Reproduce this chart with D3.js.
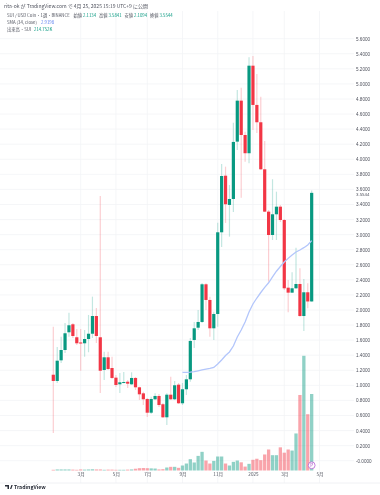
<!DOCTYPE html>
<html><head><meta charset="utf-8">
<script src="https://cdnjs.cloudflare.com/ajax/libs/d3/7.8.5/d3.min.js"></script>
<style>html,body{margin:0;padding:0;background:#fff}svg{display:block;filter:blur(.35px)}text{font-family:"Noto Sans CJK JP","Noto Sans",sans-serif}.num text,text.num{font-family:"Liberation Sans","Noto Sans CJK JP",sans-serif}</style>
</head><body><svg id="c" width="380" height="495"></svg>
<script>
const opens=[1.141,1.058,1.332,1.469,1.704,1.810,1.638,1.569,1.558,1.615,1.685,1.920,1.638,1.204,1.372,1.230,1.102,1.014,1.035,1.048,1.014,1.098,.974,.894,.819,.637,.815,.859,.749,.576,.876,.815,1.009,.762,.948,1.080,1.602,1.765,1.841,2.341,2.133,1.757,1.947,3.031,3.782,3.394,3.473,4.234,4.778,4.322,4.080,5.242,4.721,4.491,3.867,3.305,2.995,3.270,3.371,3.194,2.296,2.230,2.288,2.345,1.920,2.235,2.1134];
const closes=[1.058,1.327,1.469,1.691,1.797,1.655,1.558,1.555,1.615,1.685,1.920,1.655,1.194,1.372,1.217,1.098,1.005,1.040,1.044,1.022,1.098,.974,.881,.815,.637,.819,.859,.739,.576,.876,.815,1.001,.762,.948,1.080,1.589,1.757,1.841,2.341,2.133,1.757,1.947,3.031,3.778,3.403,3.473,4.230,4.778,4.322,4.080,5.242,4.721,4.491,3.867,3.305,2.995,3.270,3.371,3.194,2.288,2.230,2.288,2.345,1.920,2.235,2.113,3.5544];
const highs=[1.778,1.509,1.646,1.827,1.964,1.827,1.748,1.748,1.735,1.934,2.177,2.027,3.513,1.447,1.447,1.380,1.137,1.164,1.177,1.071,1.173,1.111,.982,.916,.832,.849,.894,.885,.766,.894,1.115,1.058,1.031,1.031,1.137,1.628,1.841,2.000,2.358,2.354,2.177,1.977,3.159,3.938,3.902,3.659,4.486,4.920,4.950,4.366,5.354,5.371,5.132,4.831,4.243,3.327,3.735,3.570,3.393,3.208,2.398,2.500,2.827,2.553,2.411,2.354,3.5841];
const lows=[.368,1.031,1.297,1.429,1.646,1.628,1.535,1.194,1.380,1.439,1.628,1.562,.898,1.071,1.204,1.084,.978,.898,1.027,.965,1.005,.938,.806,.739,.580,.620,.806,.713,.567,.474,.806,.806,.752,.739,.872,1.048,1.496,1.735,1.827,2.000,1.646,1.602,1.778,2.836,3.155,2.973,3.301,4.124,3.490,3.968,3.947,4.389,4.349,3.858,3.301,2.376,2.929,2.929,3.168,2.265,1.969,2.226,2.279,1.911,1.721,2.023,2.1094];
const volumes=[2,3,3,3,3,2.5,2,3,2.5,3,3.5,3,3,2,2.5,2.5,2,2,2,2.5,3,5,6.5,7,6.5,6,5.5,3,3.7,8.4,10.3,10.3,7.5,14,19.6,31.8,22.5,41,52.4,28,19.6,27,39.3,39.3,19.6,14,24.3,28,23,11,18.7,30,33,29,45,59,43,43,65,50,59,56,104,212,322,158,214.75];
const smaStart=33;
const sma=[1.172,1.173,1.175,1.182,1.193,1.204,1.214,1.225,1.238,1.283,1.336,1.396,1.443,1.522,1.642,1.735,1.841,1.973,2.080,2.159,2.232,2.299,2.361,2.438,2.514,2.577,2.637,2.685,2.730,2.770,2.796,2.827,2.863,2.9198];
const priceTicks=[0,.2,.4,.6,.8,1,1.2,1.4,1.6,1.8,2,2.2,2.4,2.6,2.8,3,3.2,3.4,3.6,3.8,4,4.2,4.4,4.6,4.8,5,5.2,5.4,5.6];
const monthIdx=[7,16,24,33,42,51,59,68];
const monthLabels=["3月","5月","7月","9月","11月","2025","3月","5月"];
const lastPrice=3.5544;

const svg=d3.select("#c");
const x=d3.scaleLinear().domain([0,68]).range([53.3,319.5]);
const y=d3.scaleLinear().domain([0,5.6]).range([460.7,38.7]);
const yV=d3.scaleLinear().domain([0,214.75]).range([470.5,394]);
const G="#089981",R="#f23645";
const up=i=>closes[i]>=opens[i];
const idx=d3.range(opens.length);
const gridL=0,gridR=354,gridT=11,gridB=483;

// grid
const grid=svg.append("g").attr("stroke","#f3f4f6").attr("stroke-width",.8);
grid.selectAll(".h").data(priceTicks).join("line").attr("class","h").attr("x1",gridL).attr("x2",gridR).attr("y1",d=>y(d)).attr("y2",d=>y(d));
grid.selectAll(".v").data(monthIdx).join("line").attr("class","v").attr("x1",d=>x(d)).attr("x2",d=>x(d)).attr("y1",gridT).attr("y2",gridB);
svg.append("line").attr("x1",0).attr("x2",380).attr("y1",gridB).attr("y2",gridB).attr("stroke","#eceef1").attr("stroke-width",.8);

// volume
svg.append("g").selectAll("rect").data(idx).join("rect")
 .attr("x",i=>x(i)-1.65).attr("width",3.3).attr("y",i=>yV(volumes[i])).attr("height",i=>yV(0)-yV(volumes[i]))
 .attr("fill",i=>up(i)?G:R).attr("opacity",.45);

// wicks
svg.append("g").selectAll("line").data(idx).join("line")
 .attr("x1",i=>x(i)).attr("x2",i=>x(i)).attr("y1",i=>y(highs[i])).attr("y2",i=>y(lows[i]))
 .attr("stroke",i=>up(i)?G:R).attr("stroke-width",1.2).attr("opacity",.24);
// bodies
svg.append("g").selectAll("rect").data(idx).join("rect")
 .attr("x",i=>x(i)-1.6).attr("width",3.2)
 .attr("y",i=>y(Math.max(opens[i],closes[i])))
 .attr("height",i=>Math.max(1,Math.abs(y(opens[i])-y(closes[i]))))
 .attr("fill",i=>up(i)?G:R);

// SMA
svg.append("path").datum(sma).attr("fill","none").attr("stroke","#b3c6fb").attr("stroke-width",1.3)
 .attr("d",d3.line().x((d,i)=>x(i+smaStart)).y(d=>y(d)));

// axes
const ay=svg.append("g").attr("class","num").attr("transform","translate(356,0)").call(
 d3.axisRight(y).tickValues(priceTicks).tickSize(0).tickPadding(0).tickFormat(d=>d===0?"-0.0000":d.toFixed(4)));
ay.select(".domain").remove();
ay.selectAll("text").attr("font-size",4.6).attr("fill","#50535e");
svg.append("text").attr("class","num").attr("x",356).attr("y",y(lastPrice)+1.6).attr("dy",".32em").attr("font-size",4.4).attr("fill","#50535e").text(lastPrice.toFixed(4));

const ax=svg.append("g").attr("transform","translate(0,473)").call(
 d3.axisBottom(x).tickValues(monthIdx).tickSize(0).tickPadding(0).tickFormat((d,i)=>monthLabels[i]));
ax.select(".domain").remove();
ax.selectAll("text").attr("font-size",4.6).attr("fill","#50535e");

// header
const t=(xx,yy,s,c,fs)=>svg.append("text").attr("x",xx).attr("y",yy).attr("font-size",fs||4.3).attr("fill",c||"#50535e").text(s);
t(4,7.5,"rita-ok が TradingView.com で 4月 25, 2025 15:19 UTC+9 に公開","#50535e",5);
t(7,17.4,"SUI / USD Coin・1週・BINANCE");
t(73.5,17.4,"始値"); t(83,17.4,"2.1134",G);
t(99,17.4,"高値"); t(108.5,17.4,"3.5841",G);
t(124.5,17.4,"安値"); t(134,17.4,"2.1094",G);
t(150,17.4,"終値"); t(159.5,17.4,"3.5544",G);
t(7,24,"SMA (34, close)");
t(41,24,"2.9198","#5b7ff0");
t(7,30.7,"出来高・SUI");
t(34,30.7,"214.752K",G);

// publish marker
const px=x(66);
svg.append("circle").attr("cx",px).attr("cy",465.3).attr("r",3.4).attr("fill","#fff").attr("stroke","#b65fd6").attr("stroke-width",.8);
svg.append("text").attr("x",px).attr("y",467).attr("text-anchor","middle").attr("font-size",4.5).attr("fill","#9c3fc0").text("P");

// logo
svg.append("path").attr("d","M5 485h4v4h-1.5v-2.6H5zM10 489l1.4-4h1.3l-1.4 4z").attr("fill","#2a2e39");
t(14,489,"TradingView","#2a2e39",5.2).attr("font-weight",600);
</script></body></html>
